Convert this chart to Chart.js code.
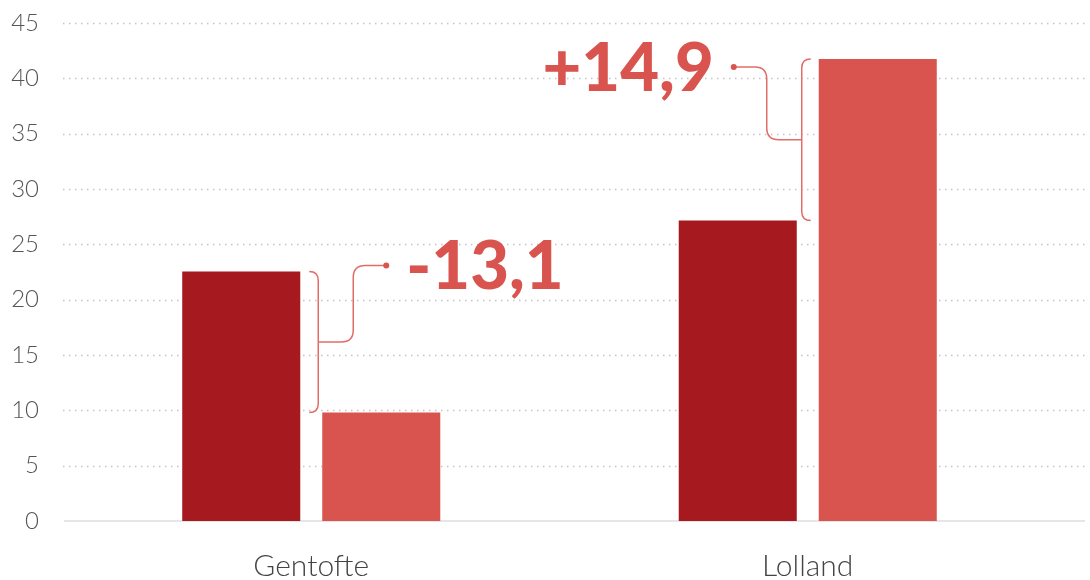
<!DOCTYPE html>
<html>
<head>
<meta charset="utf-8">
<script src="https://cdn.jsdelivr.net/npm/chart.js@4/dist/chart.umd.min.js"></script>
<style>
    html, body { margin: 0; padding: 0; background: #ffffff; }
    #wrap { width: 1090px; height: 580px; }
</style>
</head>
<body>
<div id="wrap"><canvas id="chart"></canvas></div>
<script>
    /* Chart data */
    const categories = ['Gentofte', 'Lolland'];
    const seriesFirst = [22.55, 27.15];
    const seriesSecond = [9.8, 41.75];
    const diffLabels = ['-13,1', '+14,9'];
    const yTicks = [0, 5, 10, 15, 20, 25, 30, 35, 40, 45];

    const colors = ['#a6191e', '#d9544f'];
    const accent = '#d9544f';

    // Dotted grid lines + baseline, drawn under the bars and reaching past the plot area
    const gridPlugin = {
        id: 'dottedGrid',
        beforeDatasetsDraw(chart) {
            const { ctx, chartArea, scales } = chart;
            const right = chart.width - 5;
            ctx.save();
            yTicks.forEach((t) => {
                const y = Math.round(scales.y.getPixelForValue(t)) + 0.5;
                if (t === 0) return;
                ctx.beginPath();
                ctx.setLineDash([1.5, 4.5]);
                ctx.lineWidth = 1.5;
                ctx.strokeStyle = '#c4c4c4';
                ctx.moveTo(chartArea.left, y);
                ctx.lineTo(right, y);
                ctx.stroke();
            });
            ctx.setLineDash([]);
            const y0 = scales.y.getPixelForValue(0);
            ctx.beginPath();
            ctx.lineWidth = 2;
            ctx.strokeStyle = '#e6e6e6';
            ctx.moveTo(chartArea.left + 1, y0);
            ctx.lineTo(right, y0);
            ctx.stroke();
            ctx.restore();
        },
    };

    // Brackets with connector and difference label
    const bracketPlugin = {
        id: 'brackets',
        afterDatasetsDraw(chart) {
            const { ctx } = chart;
            const m0 = chart.getDatasetMeta(0).data;
            const m1 = chart.getDatasetMeta(1).data;
            ctx.save();
            ctx.strokeStyle = '#e36c68';
            ctx.fillStyle = accent;
            ctx.lineWidth = 1.5;
            const r = 12;
            const cr = 9;

            categories.forEach((c, i) => {
                const a = m0[i];
                const b = m1[i];
                const top = Math.min(a.y, b.y);
                const bottom = Math.max(a.y, b.y);
                const mid = (top + bottom) / 2;
                const leftSide = b.y > a.y; // label goes to the right when the second bar is lower
                let bx, dir;
                if (leftSide) {
                    bx = a.x + a.width / 2 + 18;
                    dir = 1;
                } else {
                    bx = b.x - b.width / 2 - 17;
                    dir = -1;
                }
                // bracket, ends curl back toward the bars
                ctx.beginPath();
                ctx.moveTo(bx - dir * cr, top);
                ctx.quadraticCurveTo(bx, top, bx, top + cr);
                ctx.lineTo(bx, bottom - cr);
                ctx.quadraticCurveTo(bx, bottom, bx - dir * cr, bottom);
                ctx.stroke();

                // connector to label
                const vx = bx + dir * 35;
                const dotY = leftSide ? top - 6 : top + 8;
                const dotX = vx + dir * 33;
                ctx.beginPath();
                ctx.moveTo(bx, mid);
                ctx.lineTo(vx - dir * r, mid);
                ctx.quadraticCurveTo(vx, mid, vx, mid - r);
                ctx.lineTo(vx, dotY + r);
                ctx.quadraticCurveTo(vx, dotY, vx + dir * r, dotY);
                ctx.lineTo(dotX, dotY);
                ctx.stroke();
                ctx.beginPath();
                ctx.arc(dotX, dotY, 3, 0, Math.PI * 2);
                ctx.fill();

                ctx.font = '900 67px Lato';
                ctx.textBaseline = 'middle';
                ctx.textAlign = dir > 0 ? 'left' : 'right';
                ctx.fillText(diffLabels[i], dotX + dir * 20, dotY + 2);
            });
            ctx.restore();
        },
    };

    new Chart(document.getElementById('chart'), {
        type: 'bar',
        data: {
            labels: categories,
            datasets: [
                { label: 'Serie 1', data: seriesFirst, backgroundColor: colors[0] },
                { label: 'Serie 2', data: seriesSecond, backgroundColor: colors[1] },
            ],
        },
        options: {
            responsive: true,
            maintainAspectRatio: false,
            animation: false,
            barPercentage: 0.843,
            categoryPercentage: 0.564,
            layout: {
                padding: { top: 23, right: 34, bottom: 0, left: 0 },
            },
            scales: {
                x: {
                    grid: { display: false },
                    border: { display: false },
                    ticks: {
                        color: '#444444',
                        padding: 19,
                        font: { family: 'Lato', weight: 300, size: 30 },
                    },
                    afterFit: (s) => { s.height = 59; s.paddingLeft = 0; s.paddingRight = 0; },
                },
                y: {
                    min: 0,
                    max: 45,
                    grid: { display: false },
                    border: { display: false },
                    ticks: {
                        stepSize: 5,
                        color: '#555555',
                        padding: 16,
                        font: { family: 'Lato', weight: 300, size: 24 },
                    },
                    afterFit: (s) => { s.width = 63; s.paddingTop = 0; s.paddingBottom = 0; },
                },
            },
            plugins: {
                legend: { display: false },
                tooltip: { enabled: false },
            },
        },
        plugins: [gridPlugin, bracketPlugin],
    });
</script>
</body>
</html>
